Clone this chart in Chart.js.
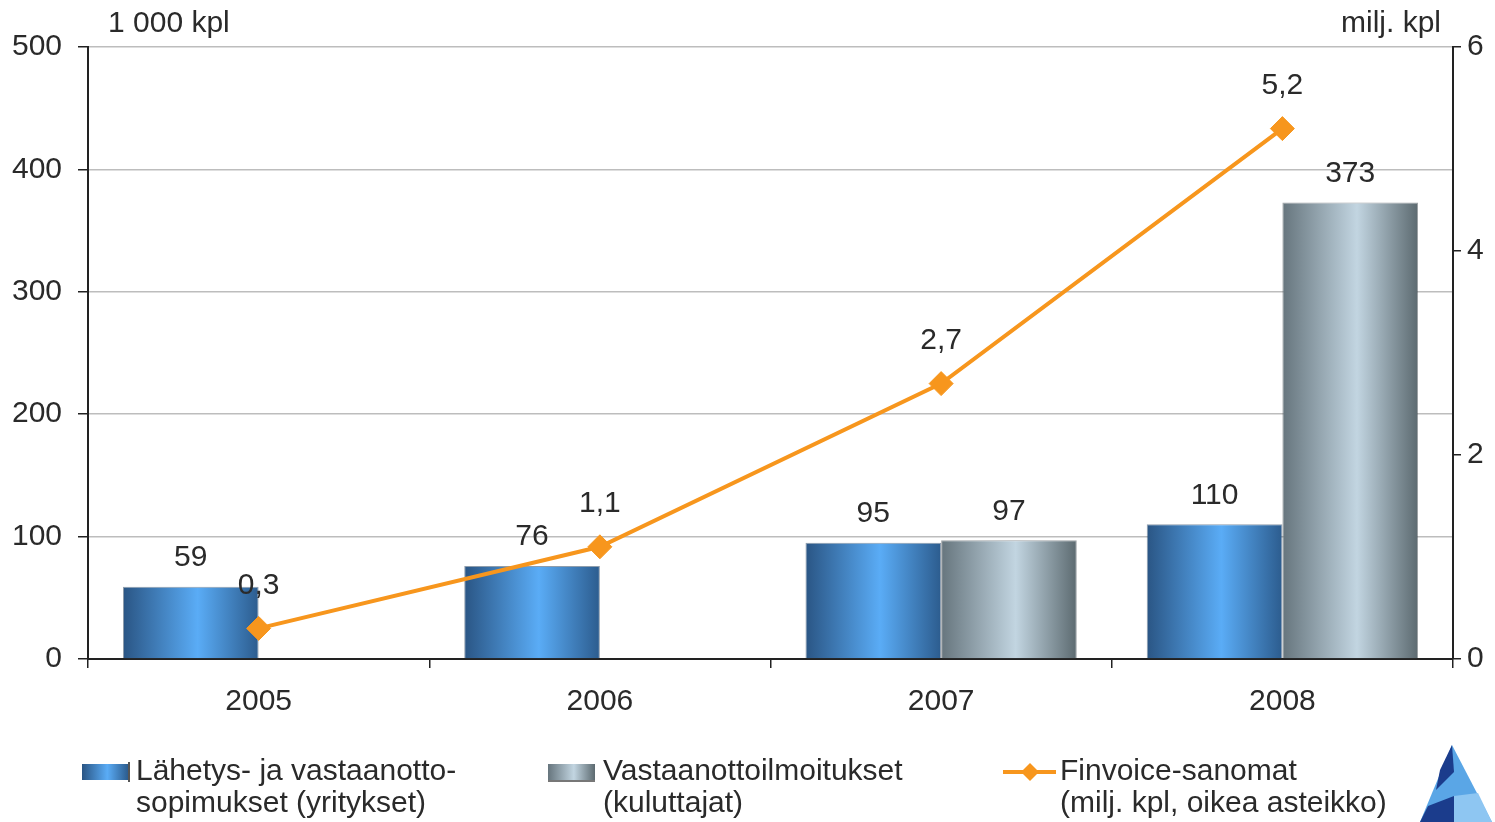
<!DOCTYPE html>
<html>
<head>
<meta charset="utf-8">
<script src="https://cdn.jsdelivr.net/npm/chart.js@4/dist/chart.umd.min.js"></script>
<style>
  html, body { margin: 0; padding: 0; background: #fff; }
  #wrap { width: 1495px; height: 822px; position: relative; }
</style>
</head>
<body>
<div id="wrap"><canvas id="myChart"></canvas></div>
<script>
'use strict'

// DATA
var years = ['2005', '2006', '2007', '2008'];
var sopimukset = [59, 76, 95, 110];          // 1 000 kpl
var ilmoitukset = [null, null, 97, 373];     // 1 000 kpl
var finvoice = [0.3, 1.1, 2.7, 5.2];         // milj. kpl
var leftTicks = [0, 100, 200, 300, 400, 500];
var rightTicks = [0, 2, 4, 6];

var seriesNames = [
	['Lähetys- ja vastaanotto-', 'sopimukset (yritykset)'],
	['Vastaanottoilmoitukset', '(kuluttajat)'],
	['Finvoice-sanomat', '(milj. kpl, oikea asteikko)']
];

var FONT = "'Liberation Sans', Arial, sans-serif";
var FS = 30;
var CAT_PCT = 0.795;
var ORANGE = '#F7961D';
var blueStops = ['#2a5584', '#5aacf6', '#2c5c8e'];
var grayStops = ['#66757d', '#c2d5e1', '#5c6a70'];

function makeGradient(c, left, width, stops) {
	var g = c.createLinearGradient(left, 0, left + width, 0);
	g.addColorStop(0, stops[0]);
	g.addColorStop(0.55, stops[1]);
	g.addColorStop(1, stops[2]);
	return g;
}

// gradient per bar, computed from the category scale
function barFill(stops, side) {
	return function(ctx) {
		var chart = ctx.chart;
		var xs = chart.scales.x;
		if (!xs || !chart.chartArea || ctx.dataIndex === undefined) return stops[1];
		var w = xs.width / years.length * CAT_PCT / 2;
		var c = xs.getPixelForValue(ctx.dataIndex);
		var left = side === 0 ? c - w : c;
		return makeGradient(chart.ctx, left, w, stops);
	};
}

function fmt(v) {
	return String(v).replace('.', ',');
}

// VALUE LABELS + AXIS TITLES + LEGEND + LOGO
var extras = {
	id: 'extras',
	afterDatasetsDraw: function(chart) {
		var c = chart.ctx;
		c.save();
		c.font = FS + 'px ' + FONT;
		c.fillStyle = '#2a2a2a';
		c.textAlign = 'center';
		c.textBaseline = 'middle';
		[0, 1].forEach(function(di) {
			var meta = chart.getDatasetMeta(di);
			meta.data.forEach(function(el, i) {
				var v = chart.data.datasets[di].data[i];
				if (v === null) return;
				c.fillText(fmt(v), el.x, el.y - 29);
			});
		});
		var lm = chart.getDatasetMeta(2);
		lm.data.forEach(function(el, i) {
			c.fillText(fmt(finvoice[i]), el.x, el.y - 43);
		});
		c.restore();
	},
	afterDraw: function(chart) {
		var c = chart.ctx;
		var a = chart.chartArea;
		c.save();
		c.font = FS + 'px ' + FONT;
		c.fillStyle = '#2a2a2a';
		c.textBaseline = 'middle';
		c.textAlign = 'left';
		c.fillText('1 000 kpl', a.left + 20, 24);
		c.textAlign = 'right';
		c.fillText('milj. kpl', a.right - 12, 24);

		// legend
		c.textAlign = 'left';
		var ly = 772;
		// item 1
		c.fillStyle = makeGradient(c, 82, 46, blueStops);
		c.fillRect(82, 764, 46, 16);
		c.fillStyle = '#555';
		c.fillRect(128, 762, 2, 20);
		c.fillStyle = '#2a2a2a';
		c.fillText(seriesNames[0][0], 136, ly);
		c.fillText(seriesNames[0][1], 136, ly + 32);
		// item 2
		c.fillStyle = makeGradient(c, 548, 47, grayStops);
		c.fillRect(548, 764, 47, 16);
		c.fillStyle = '#777';
		c.fillRect(548, 780, 47, 2);
		c.fillStyle = '#2a2a2a';
		c.fillText(seriesNames[1][0], 603, ly);
		c.fillText(seriesNames[1][1], 603, ly + 32);
		// item 3
		c.strokeStyle = ORANGE;
		c.lineWidth = 4;
		c.beginPath();
		c.moveTo(1003, ly);
		c.lineTo(1056, ly);
		c.stroke();
		c.fillStyle = ORANGE;
		c.beginPath();
		c.moveTo(1030, ly - 9);
		c.lineTo(1039, ly);
		c.lineTo(1030, ly + 9);
		c.lineTo(1021, ly);
		c.closePath();
		c.fill();
		c.fillStyle = '#2a2a2a';
		c.fillText(seriesNames[2][0], 1060, ly);
		c.fillText(seriesNames[2][1], 1060, ly + 32);

		// logo
		c.fillStyle = '#5aa6e6';
		c.beginPath();
		c.moveTo(1452, 745);
		c.lineTo(1492, 822);
		c.lineTo(1420, 822);
		c.closePath();
		c.fill();
		c.fillStyle = '#1b3c8c';
		c.beginPath();
		c.moveTo(1452, 745);
		c.lineTo(1454, 772);
		c.lineTo(1436, 790);
		c.lineTo(1440, 770);
		c.closePath();
		c.fill();
		c.beginPath();
		c.moveTo(1454, 796);
		c.lineTo(1454, 822);
		c.lineTo(1420, 822);
		c.lineTo(1428, 806);
		c.closePath();
		c.fill();
		c.fillStyle = '#8ec6f2';
		c.beginPath();
		c.moveTo(1454, 796);
		c.lineTo(1478, 793);
		c.lineTo(1492, 822);
		c.lineTo(1454, 822);
		c.closePath();
		c.fill();
		c.restore();
	}
};

var ctx = document.getElementById('myChart').getContext('2d');
var chart = new Chart(ctx, {
	type: 'bar',
	data: {
		labels: years,
		datasets: [{
			label: seriesNames[0].join(' '),
			data: sopimukset,
			yAxisID: 'y',
			backgroundColor: barFill(blueStops, 0),
			borderColor: 'rgba(30,60,90,0.5)',
			borderWidth: 1,
			order: 1
		},
		{
			label: seriesNames[1].join(' '),
			data: ilmoitukset,
			yAxisID: 'y',
			backgroundColor: barFill(grayStops, 1),
			borderColor: 'rgba(60,70,75,0.5)',
			borderWidth: 1,
			order: 1
		},
		{
			type: 'line',
			label: seriesNames[2].join(' '),
			data: finvoice,
			yAxisID: 'y1',
			borderColor: ORANGE,
			backgroundColor: ORANGE,
			borderWidth: 4,
			pointStyle: 'rectRot',
			pointRadius: 12,
			pointBorderWidth: 1,
			pointBackgroundColor: ORANGE,
			pointBorderColor: ORANGE,
			tension: 0,
			order: 0
		}]
	},
	options: {
		responsive: true,
		maintainAspectRatio: false,
		animation: false,
		layout: { padding: { top: 47, left: 0, right: 0, bottom: 0 } },
		datasets: {
			bar: { categoryPercentage: CAT_PCT, barPercentage: 1 }
		},
		plugins: {
			legend: { display: false },
			tooltip: { enabled: false }
		},
		scales: {
			x: {
				grid: {
					offset: true,
					drawOnChartArea: false,
					drawTicks: true,
					tickLength: 9,
					color: '#222',
					lineWidth: 1.5
				},
				border: { color: '#222', width: 2 },
				ticks: {
					color: '#2a2a2a',
					font: { family: FONT, size: FS },
					padding: 16
				},
				afterFit: function(s) { s.height = 163; }
			},
			y: {
				position: 'left',
				min: leftTicks[0],
				max: leftTicks[leftTicks.length - 1],
				afterBuildTicks: function(s) {
					s.ticks = leftTicks.map(function(v) { return { value: v }; });
				},
				grid: {
					color: '#bdbdbd',
					lineWidth: 1.5,
					tickColor: '#222',
					tickLength: 10
				},
				border: { color: '#222', width: 2 },
				ticks: {
					color: '#2a2a2a',
					font: { family: FONT, size: FS },
					padding: 16
				},
				afterFit: function(s) { s.width = 88; }
			},
			y1: {
				position: 'right',
				min: rightTicks[0],
				max: rightTicks[rightTicks.length - 1],
				afterBuildTicks: function(s) {
					s.ticks = rightTicks.map(function(v) { return { value: v }; });
				},
				grid: {
					drawOnChartArea: false,
					color: '#222',
					lineWidth: 1.5,
					tickLength: 8
				},
				border: { color: '#222', width: 2 },
				ticks: {
					color: '#2a2a2a',
					font: { family: FONT, size: FS },
					padding: 6
				},
				afterFit: function(s) { s.width = 42; }
			}
		}
	},
	plugins: [extras]
});
</script>
</body>
</html>
